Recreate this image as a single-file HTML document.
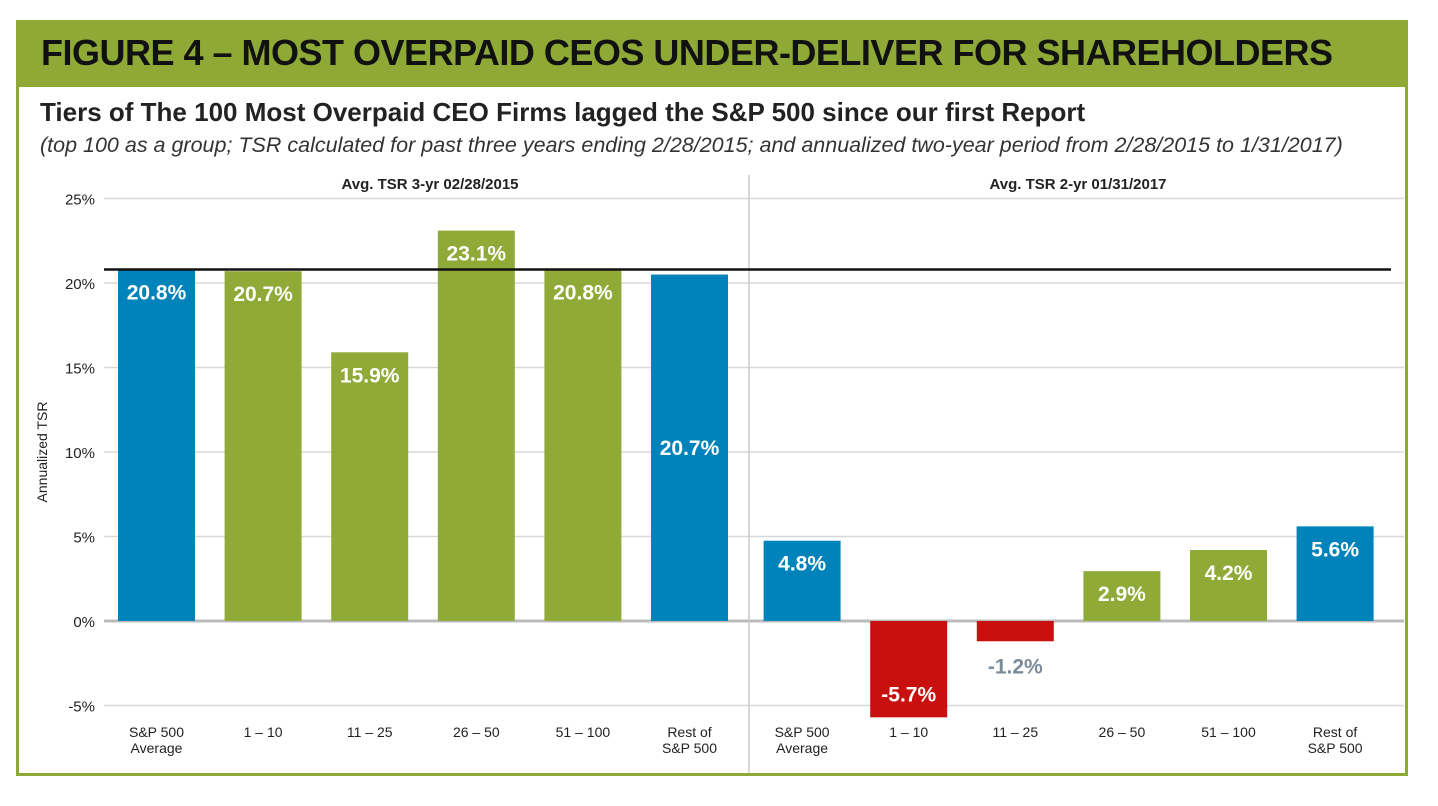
<!DOCTYPE html>
<html><head><meta charset="utf-8"><style>
body{margin:0;background:#fff;width:1438px;height:806px;overflow:hidden;font-family:"Liberation Sans",Arial,sans-serif}
#frame{position:absolute;left:16px;top:20px;width:1386px;height:753px;border:3px solid #8fa937;border-top:none}
#hdr{position:absolute;left:16px;top:20px;width:1392px;height:67px;background:#8fa937}
#hdr h1{margin:0;position:absolute;left:25px;top:12px;font-size:36px;font-weight:bold;color:#111;letter-spacing:-0.5px;white-space:nowrap}
#sub{position:absolute;left:40px;top:97px;font-size:26px;font-weight:bold;color:#222;white-space:nowrap}
#note{position:absolute;left:40px;top:133px;font-size:21.5px;font-style:italic;color:#333;white-space:nowrap}
svg{position:absolute;left:0;top:0}
</style></head><body>
<div id="frame"></div>
<div id="hdr"><h1>FIGURE 4 – MOST OVERPAID CEOS UNDER-DELIVER FOR SHAREHOLDERS</h1></div>
<div id="sub">Tiers of The 100 Most Overpaid CEO Firms lagged the S&amp;P 500 since our first Report</div>
<div id="note">(top 100 as a group; TSR calculated for past three years ending 2/28/2015; and annualized two-year period from 2/28/2015 to 1/31/2017)</div>
<svg id="chart" width="1438" height="806"></svg>
<script>
const categories=["S&P 500|Average","1 – 10","11 – 25","26 – 50","51 – 100","Rest of|S&P 500","S&P 500|Average","1 – 10","11 – 25","26 – 50","51 – 100","Rest of|S&P 500"];
const values=[20.8,20.7,15.9,23.1,20.8,20.5,4.75,-5.7,-1.2,2.95,4.2,5.6];
const valueLabels=["20.8%","20.7%","15.9%","23.1%","20.8%","20.7%","4.8%","-5.7%","-1.2%","2.9%","4.2%","5.6%"];
const barKinds=["blue","green","green","green","green","blue","blue","red","red","green","green","blue"];
const labelModes=["top","top","top","top","top","mid","top","bottom","below","top","top","top"];
const yTicks=[25,20,15,10,5,0,-5];
const yTickLabels=["25%","20%","15%","10%","5%","0%","-5%"];
const groupTitles=["Avg. TSR 3-yr 02/28/2015","Avg. TSR 2-yr 01/31/2017"];
const benchmark=20.8;

const svg=document.getElementById('chart');const NS='http://www.w3.org/2000/svg';
function mk(t,a,p){const e=document.createElementNS(NS,t);for(const k in a)e.setAttribute(k,a[k]);(p||svg).appendChild(e);return e;}
const y=v=>621-v*16.9;
const x=i=>156.5+i*106.6+(i>=6?6:0);
const colors={blue:"#0083ba",green:"#8faa37",red:"#c8100f"};
const FN='"Liberation Sans",Arial,sans-serif';
yTicks.forEach((t,i)=>{
 const g=mk('line',{x1:104,x2:1404,y1:y(t),y2:y(t),stroke:t===0?'#bbb':'#d8d8d8','stroke-width':t===0?3:1.5});
 
 
 const tx=mk('text',{x:95,y:y(t)+6,'text-anchor':'end','font-size':15,fill:'#222','font-family':FN});
 tx.textContent=yTickLabels[i];
 
 
});
const dv=mk('line',{x1:749,x2:749,y1:175,y2:773,stroke:'#ccc','stroke-width':1.5});


groupTitles.forEach((t,i)=>{
 const tx=mk('text',{x:i?1078:430,y:189,'text-anchor':'middle','font-size':15,'font-weight':'bold',fill:'#222','font-family':FN});
 tx.textContent=t;
 
 
});
const at=mk('text',{x:0,y:0,'font-size':14,fill:'#222','font-family':FN,'text-anchor':'middle',transform:'translate(47,452) rotate(-90)'});
at.textContent='Annualized TSR';


values.forEach((v,i)=>{
 const top=Math.min(y(v),y(0)),h=Math.abs(y(v)-y(0));
 const r=mk('rect',{x:x(i)-38.5,y:top,width:77,height:h,fill:colors[barKinds[i]]});
 
 
 let ly,fill='#fff';
 const m=labelModes[i];
 if(m==='top')ly=top+30;else if(m==='mid')ly=top+h/2+7;else if(m==='bottom')ly=top+h-16;else{ly=top+h+32;fill='#7a8a99';}
 const lt=mk('text',{x:x(i),y:ly,'text-anchor':'middle','font-size':21,'font-weight':'bold',fill:fill,'font-family':FN});
 lt.textContent=valueLabels[i];
 
 
 categories[i].split('|').forEach((s,j)=>{
  const c=mk('text',{x:x(i),y:737+j*16,'text-anchor':'middle','font-size':14,fill:'#222','font-family':FN});
  c.textContent=s;
  
  
 });
});
const bl=mk('line',{x1:104,x2:1391,y1:y(benchmark),y2:y(benchmark),stroke:'#111','stroke-width':2.5});


</script>
</body></html>
